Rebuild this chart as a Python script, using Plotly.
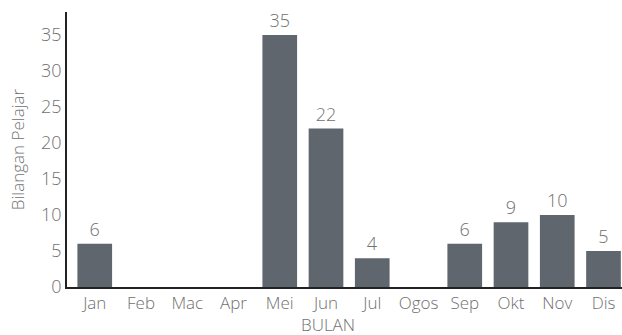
import plotly.graph_objects as go

months = ["Jan", "Feb", "Mac", "Apr", "Mei", "Jun", "Jul", "Ogos", "Sep", "Okt", "Nov", "Dis"]
students = [6, 0, 0, 0, 35, 22, 4, 0, 6, 9, 10, 5]
y_ticks = [0, 5, 10, 15, 20, 25, 30, 35]

bar_labels = [str(v) if v else "" for v in students]

TEXT_GREY = "#707070"
FONT = "Open Sans"

fig = go.Figure(
    go.Bar(
        x=months,
        y=students,
        text=bar_labels,
        textposition="outside",
        cliponaxis=False,
        textfont=dict(family=FONT, size=18, color=TEXT_GREY, weight=300),
        marker=dict(color="#5f666d", line=dict(width=0)),
    )
)

fig.update_layout(
    width=622,
    height=335,
    margin=dict(l=67, r=0, t=12, b=48),
    plot_bgcolor="white",
    paper_bgcolor="white",
    bargap=0.25,
    showlegend=False,
    font=dict(family=FONT, color=TEXT_GREY, weight=300),
    annotations=[
        dict(
            text="BULAN",
            xref="paper", yref="paper",
            x=0.47, y=-0.135,
            xanchor="center", yanchor="middle",
            showarrow=False,
            font=dict(family=FONT, size=17, color=TEXT_GREY, weight=300),
        )
    ],
)

fig.update_xaxes(
    range=[-0.6, 11.4],
    showline=True,
    linecolor="#222222",
    linewidth=1.5,
    showgrid=False,
    ticks="",
    tickfont=dict(family=FONT, size=17, color=TEXT_GREY, weight=300),
)

fig.update_yaxes(
    range=[0, 38.2],
    tickvals=y_ticks,
    showline=True,
    linecolor="#222222",
    linewidth=1.5,
    showgrid=False,
    zeroline=False,
    ticks="",
    tickfont=dict(family=FONT, size=18, color=TEXT_GREY, weight=300),
    title=dict(text="Bilangan Pelajar", font=dict(family=FONT, size=17, color=TEXT_GREY, weight=300), standoff=12),
)

fig.write_html("out.html")
